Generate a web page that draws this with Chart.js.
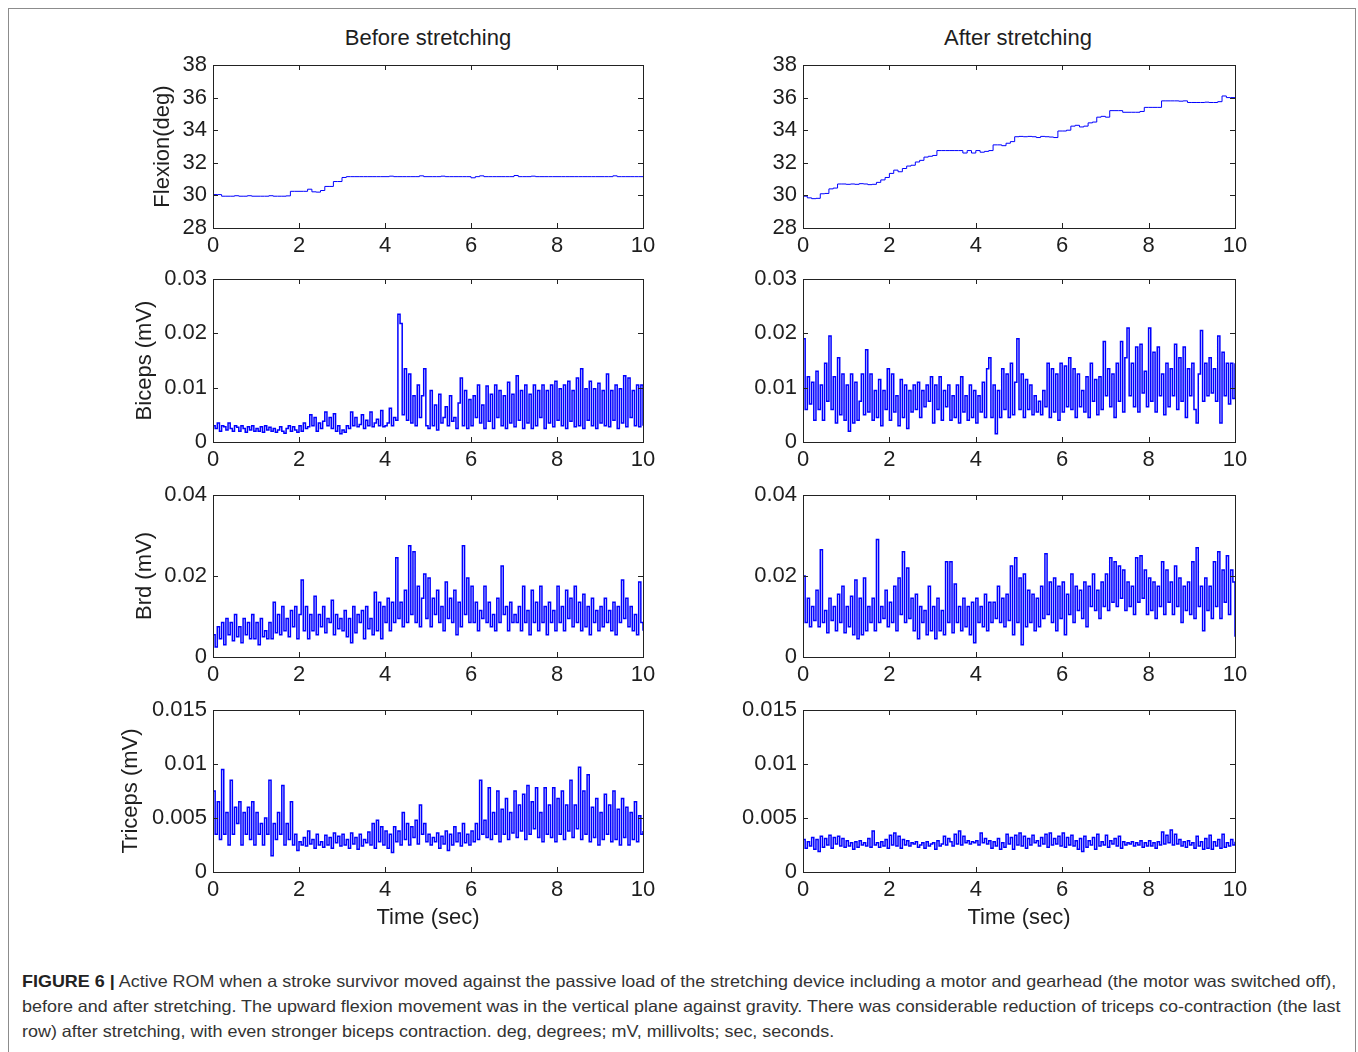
<!DOCTYPE html>
<html>
<head>
<meta charset="utf-8">
<script src="https://cdn.jsdelivr.net/npm/chart.js@4.4.1/dist/chart.umd.min.js"></script>
<style>
  html, body { margin: 0; padding: 0; background: #fff; }
  body { width: 1358px; height: 1052px; position: relative; overflow: hidden; font-family: 'Liberation Sans', Arial, sans-serif; }
  #frame { position: absolute; left: 8px; top: 8px; width: 1346px; height: 1100px; border: 1px solid #8c8c8c; }
  .coltitle { position: absolute; width: 400px; text-align: center; font-size: 22px; line-height: 26px; color: #1e1e1e; }
  #caption { position: absolute; left: 22px; top: 969px; font-size: 16.5px; line-height: 25px; color: #333; }
  #caption .ln { white-space: nowrap; transform-origin: 0 0; }
</style>
</head>
<body>
<div id="frame"></div>
<div class="coltitle" style="left:228px;top:25px">Before stretching</div>
<div class="coltitle" style="left:818px;top:25px">After stretching</div>
<div id="caption">
  <div class="ln"><b style="color:#222">FIGURE 6 |</b> Active ROM when a stroke survivor moved against the passive load of the stretching device including a motor and gearhead (the motor was switched off),</div>
  <div class="ln">before and after stretching. The upward flexion movement was in the vertical plane against gravity. There was considerable reduction of triceps co-contraction (the last</div>
  <div class="ln">row) after stretching, with even stronger biceps contraction. deg, degrees; mV, millivolts; sec, seconds.</div>
</div>
<script>
// flexion angle, sampled every 0.1 s (0..10 s)
const flexBefore = [
  30.05,30.05,29.95,29.95,29.95,29.98,29.95,29.95,29.98,29.95,
  29.95,29.95,29.95,29.98,29.95,29.95,29.95,29.97,30.25,30.25,
  30.25,30.25,30.38,30.22,30.2,30.3,30.55,30.55,30.85,30.85,
  31.1,31.15,31.15,31.15,31.15,31.15,31.15,31.15,31.15,31.15,
  31.15,31.18,31.15,31.15,31.15,31.15,31.15,31.15,31.2,31.15,
  31.15,31.15,31.15,31.18,31.15,31.15,31.15,31.15,31.15,31.15,
  31.08,31.15,31.2,31.15,31.15,31.15,31.15,31.15,31.15,31.15,
  31.22,31.15,31.15,31.15,31.18,31.15,31.15,31.15,31.15,31.15,
  31.15,31.15,31.15,31.15,31.15,31.15,31.15,31.15,31.15,31.15,
  31.15,31.15,31.15,31.2,31.15,31.15,31.15,31.15,31.15,31.15,31.15
];
const flexAfter = [
  29.95,29.85,29.8,29.82,30.1,30.12,30.4,30.45,30.7,30.7,
  30.68,30.7,30.68,30.72,30.7,30.66,30.68,30.8,30.95,31.1,
  31.35,31.55,31.45,31.65,31.8,31.85,32.05,32.15,32.35,32.4,
  32.45,32.75,32.75,32.75,32.75,32.75,32.75,32.6,32.75,32.6,
  32.75,32.65,32.7,32.75,33.1,33.1,33.05,33.2,33.3,33.6,
  33.62,33.6,33.62,33.6,33.55,33.62,33.6,33.58,33.55,33.95,
  33.95,34.0,34.25,34.3,34.2,34.25,34.45,34.5,34.8,34.85,
  34.8,35.2,35.2,35.2,35.1,35.1,35.1,35.1,35.15,35.4,
  35.4,35.4,35.4,35.8,35.8,35.8,35.8,35.78,35.8,35.7,
  35.7,35.7,35.7,35.72,35.7,35.7,35.75,36.1,36.0,36.0,36.0
];

// EMG envelopes (mV), sampled every 0.05 s
const bicepsBefore = [
  0.003,0.0025,0.0035,0.002,0.003,0.0028,0.0022,0.0035,0.0025,0.002,0.003,0.0027,0.002,0.003,0.0025,0.0018,0.0028,0.0022,0.003,0.002,
  0.0025,0.002,0.0028,0.0018,0.003,0.0022,0.0027,0.002,0.0025,0.0018,0.0022,0.0028,0.002,0.0016,0.0025,0.003,0.002,0.0028,0.0022,0.0018,
  0.003,0.002,0.0035,0.0025,0.0028,0.005,0.003,0.0045,0.002,0.0035,0.0025,0.0038,0.0055,0.003,0.0045,0.0025,0.0052,0.002,0.003,0.0015,
  0.0022,0.0018,0.003,0.0025,0.0055,0.003,0.0045,0.0028,0.0032,0.005,0.0025,0.004,0.003,0.0055,0.0028,0.0035,0.0042,0.003,0.0058,0.0028,
  0.003,0.0035,0.0062,0.003,0.0045,0.004,0.0235,0.0218,0.005,0.0135,0.004,0.0125,0.0035,0.0085,0.003,0.0105,0.0045,0.0085,0.0135,0.003,
  0.0025,0.0095,0.003,0.0068,0.0022,0.0088,0.0035,0.0045,0.0065,0.003,0.0085,0.0038,0.0045,0.0025,0.0072,0.0118,0.003,0.0095,0.0025,0.0078,
  0.003,0.0085,0.0045,0.0105,0.0035,0.0068,0.0025,0.0103,0.0038,0.0088,0.0025,0.0105,0.0045,0.0095,0.003,0.0085,0.0025,0.011,0.0035,0.0088,
  0.0028,0.0122,0.004,0.0095,0.0025,0.0105,0.0035,0.0088,0.0025,0.0105,0.003,0.0095,0.0045,0.0105,0.0025,0.0095,0.0035,0.0105,0.0028,0.0112,
  0.004,0.0098,0.003,0.0105,0.0025,0.0112,0.0038,0.0095,0.0028,0.0118,0.003,0.0135,0.0025,0.0098,0.004,0.0112,0.003,0.0098,0.0025,0.0108,
  0.0035,0.0095,0.003,0.0125,0.0028,0.0095,0.004,0.0105,0.0025,0.0098,0.0035,0.0122,0.0028,0.0118,0.0045,0.0095,0.003,0.0105,0.0028,0.0105,0.003
];
const bicepsAfter = [
  0.019,0.006,0.012,0.007,0.011,0.004,0.013,0.006,0.0105,0.004,0.0145,0.0075,0.0195,0.006,0.012,0.0035,0.0155,0.005,0.0125,0.004,
  0.0105,0.002,0.0125,0.0035,0.011,0.004,0.0075,0.0125,0.005,0.017,0.0055,0.0125,0.004,0.0095,0.0045,0.0115,0.003,0.0095,0.006,0.0135,
  0.004,0.0125,0.0055,0.0085,0.003,0.0115,0.0045,0.0105,0.0025,0.0095,0.0055,0.0105,0.006,0.011,0.0045,0.0095,0.0065,0.0105,0.0075,0.012,
  0.0035,0.0105,0.006,0.012,0.004,0.0095,0.0065,0.0105,0.004,0.0085,0.0045,0.0105,0.0035,0.012,0.0055,0.0085,0.004,0.0105,0.0045,0.0095,
  0.0035,0.0085,0.0055,0.011,0.0045,0.0135,0.0155,0.0045,0.0105,0.0015,0.0095,0.0045,0.0135,0.006,0.0125,0.0045,0.0145,0.005,0.011,0.019,
  0.006,0.0125,0.0045,0.0115,0.006,0.0105,0.005,0.0085,0.0055,0.0075,0.005,0.0095,0.0065,0.0145,0.0045,0.0135,0.0055,0.0125,0.004,0.0145,
  0.0055,0.014,0.0065,0.0155,0.006,0.0135,0.0045,0.0125,0.0065,0.0095,0.0055,0.012,0.0045,0.0145,0.0075,0.0115,0.005,0.012,0.006,0.0185,
  0.0085,0.0135,0.0065,0.0125,0.0045,0.0145,0.0075,0.0185,0.0055,0.0155,0.021,0.0085,0.0145,0.0065,0.0175,0.0055,0.018,0.009,0.013,0.0065,
  0.021,0.0075,0.0165,0.0055,0.0175,0.0085,0.0125,0.005,0.0145,0.0065,0.0135,0.0085,0.018,0.006,0.0155,0.0075,0.0175,0.0045,0.0135,0.0085,
  0.0145,0.006,0.0035,0.0125,0.0205,0.0075,0.0145,0.0085,0.0155,0.009,0.0135,0.0075,0.0195,0.0035,0.0165,0.0085,0.0145,0.007,0.0145,0.008,0.0145
];
const brdBefore = [
  0.0055,0.0025,0.0075,0.0045,0.0085,0.003,0.0095,0.0055,0.0085,0.004,0.0105,0.005,0.0075,0.0035,0.0095,0.0055,0.0085,0.0045,0.0105,0.0045,
  0.0085,0.003,0.0095,0.005,0.0065,0.0045,0.0085,0.0045,0.0135,0.006,0.0105,0.0055,0.0125,0.0065,0.0095,0.005,0.0115,0.0075,0.0125,0.0045,
  0.0105,0.019,0.0065,0.0125,0.0045,0.0105,0.0065,0.015,0.0055,0.0105,0.0075,0.0125,0.006,0.0095,0.0085,0.014,0.0055,0.0105,0.007,0.0095,
  0.0065,0.0115,0.005,0.0095,0.0035,0.0125,0.006,0.0105,0.0085,0.0115,0.0045,0.0125,0.007,0.0095,0.0055,0.016,0.0065,0.0135,0.0045,0.0125,
  0.0085,0.0145,0.0065,0.0135,0.0085,0.0245,0.0095,0.0135,0.0075,0.0165,0.0085,0.0275,0.0105,0.026,0.0085,0.0175,0.0075,0.0145,0.0205,0.0095,
  0.0195,0.0075,0.0145,0.0105,0.0165,0.0085,0.0125,0.0065,0.0185,0.0095,0.0145,0.0085,0.0165,0.0055,0.0135,0.0075,0.0275,0.0105,0.0195,0.0085,
  0.0175,0.0085,0.0135,0.0065,0.0115,0.0095,0.0175,0.0085,0.0135,0.0075,0.0105,0.0065,0.0145,0.0085,0.0225,0.0105,0.0125,0.0065,0.0135,0.0085,
  0.0105,0.0085,0.0125,0.0065,0.0175,0.0085,0.0115,0.0055,0.0165,0.0085,0.0135,0.0065,0.0175,0.0085,0.0125,0.0055,0.0135,0.0085,0.0115,0.0065,
  0.0175,0.0085,0.0125,0.0065,0.0165,0.0095,0.0145,0.0075,0.0175,0.0085,0.0135,0.0065,0.0155,0.0075,0.0125,0.0055,0.0145,0.0085,0.0115,0.0065,
  0.0125,0.0075,0.0145,0.0085,0.0115,0.0065,0.0135,0.0055,0.0125,0.0085,0.019,0.0095,0.0145,0.0075,0.0125,0.0065,0.0105,0.0055,0.0185,0.0085,0.0065
];
const brdAfter = [
  0.02,0.0085,0.0145,0.0075,0.0125,0.009,0.0165,0.0075,0.0265,0.0085,0.0115,0.006,0.0145,0.009,0.0125,0.0065,0.0155,0.0085,0.0175,0.006,
  0.0125,0.0075,0.015,0.0055,0.019,0.0045,0.0145,0.0055,0.0195,0.0065,0.0125,0.0085,0.0145,0.0065,0.029,0.0085,0.0125,0.0095,0.0165,0.0075,
  0.0135,0.0085,0.0175,0.0065,0.0195,0.0105,0.026,0.0085,0.022,0.0095,0.0145,0.0065,0.0155,0.0045,0.0125,0.0085,0.0115,0.0055,0.0175,0.0065,
  0.0125,0.0045,0.0145,0.0065,0.0115,0.0055,0.0235,0.0085,0.0235,0.006,0.018,0.0085,0.0125,0.0065,0.0145,0.0075,0.0125,0.0055,0.0135,0.0035,
  0.0145,0.0085,0.0125,0.0075,0.0155,0.0065,0.0135,0.0085,0.0135,0.0095,0.0175,0.0085,0.0145,0.0075,0.0155,0.009,0.0225,0.0055,0.0245,0.0085,
  0.0195,0.003,0.0205,0.0075,0.0165,0.0085,0.0155,0.0065,0.0145,0.0075,0.0175,0.0095,0.0255,0.0105,0.0185,0.0085,0.0195,0.0065,0.0175,0.0095,
  0.0185,0.0055,0.0155,0.0105,0.0205,0.0085,0.0175,0.0115,0.0165,0.0095,0.0185,0.0075,0.0175,0.0125,0.0205,0.0115,0.0165,0.0095,0.0185,0.0125,
  0.0205,0.0115,0.0245,0.0135,0.0235,0.0125,0.0225,0.0145,0.0215,0.0115,0.0185,0.0125,0.0175,0.0105,0.0245,0.0135,0.025,0.0145,0.0215,0.0105,
  0.0195,0.0115,0.0185,0.0095,0.0175,0.0125,0.0235,0.0105,0.0215,0.0135,0.0185,0.0105,0.0225,0.0125,0.0195,0.0085,0.0175,0.0115,0.0185,0.0105,
  0.0235,0.0095,0.027,0.0125,0.0175,0.0065,0.0195,0.0115,0.0175,0.0095,0.0235,0.0125,0.026,0.0095,0.0215,0.0135,0.025,0.0105,0.0215,0.0185,0.005
];
const tricepsBefore = [
  0.0075,0.0035,0.0065,0.003,0.0095,0.0035,0.0055,0.0025,0.0085,0.0035,0.006,0.0045,0.0065,0.0025,0.0055,0.0035,0.006,0.003,0.0065,0.0025,
  0.0055,0.0035,0.0045,0.0025,0.005,0.0035,0.0085,0.0015,0.0045,0.003,0.0055,0.0035,0.008,0.0025,0.0045,0.003,0.0065,0.0025,0.0035,0.002,
  0.0028,0.0025,0.0032,0.0024,0.0038,0.0026,0.003,0.0022,0.0035,0.0025,0.0028,0.0023,0.0034,0.0025,0.0032,0.0022,0.0036,0.0027,0.0033,0.0024,
  0.0035,0.0025,0.003,0.0022,0.0036,0.0026,0.0032,0.0021,0.0035,0.0024,0.003,0.0027,0.0037,0.0025,0.0045,0.0022,0.0048,0.0028,0.0042,0.0025,
  0.0038,0.0022,0.0035,0.0018,0.0042,0.0028,0.0038,0.0025,0.0055,0.003,0.0045,0.0025,0.0042,0.0032,0.0048,0.0026,0.0062,0.0035,0.0045,0.0028,
  0.0035,0.0025,0.0032,0.0028,0.0036,0.0022,0.0033,0.0026,0.0038,0.002,0.0035,0.0025,0.0042,0.0028,0.0036,0.0024,0.0045,0.0027,0.0035,0.0025,
  0.0038,0.0028,0.0045,0.003,0.0085,0.0035,0.0048,0.0032,0.0078,0.003,0.0055,0.0035,0.0075,0.0028,0.0058,0.0035,0.0068,0.003,0.0055,0.0036,
  0.0075,0.0032,0.0062,0.0038,0.0072,0.003,0.008,0.0035,0.0065,0.004,0.0078,0.0032,0.0055,0.0028,0.0078,0.0035,0.0062,0.0032,0.0078,0.0028,
  0.0068,0.0035,0.0075,0.003,0.0062,0.0038,0.0085,0.0032,0.0062,0.004,0.0097,0.003,0.0075,0.0035,0.009,0.0028,0.006,0.0032,0.0068,0.0025,
  0.0055,0.003,0.0072,0.0035,0.0062,0.0028,0.0075,0.003,0.0058,0.0025,0.0068,0.0032,0.006,0.0025,0.0055,0.003,0.0065,0.0028,0.0052,0.0035,0.0038
];
const tricepsAfter = [
  0.003,0.0022,0.0028,0.0024,0.0032,0.0021,0.003,0.0019,0.0033,0.0023,0.0031,0.0025,0.0034,0.0022,0.0032,0.0026,0.0033,0.0024,0.0031,0.0023,
  0.0029,0.0024,0.0027,0.0021,0.0028,0.0023,0.0029,0.0025,0.0027,0.0024,0.0031,0.0023,0.0038,0.0025,0.0027,0.0023,0.0028,0.0024,0.003,0.0022,
  0.0034,0.0025,0.0036,0.0024,0.0033,0.0022,0.003,0.0025,0.0029,0.0024,0.0027,0.0026,0.0028,0.0023,0.0025,0.0027,0.0022,0.0028,0.0024,0.0026,
  0.0027,0.0021,0.0029,0.0024,0.0026,0.0033,0.0025,0.0031,0.0028,0.0024,0.0035,0.0026,0.0038,0.0025,0.0033,0.0027,0.0029,0.0026,0.0028,0.0027,
  0.0029,0.0025,0.0036,0.0027,0.0031,0.0026,0.0029,0.0022,0.0028,0.0024,0.0031,0.0021,0.0027,0.0023,0.0035,0.0026,0.0032,0.0021,0.0034,0.0025,
  0.0036,0.0024,0.0033,0.0022,0.0031,0.0025,0.0034,0.0027,0.0029,0.0024,0.0032,0.0026,0.0035,0.0023,0.0036,0.0025,0.0031,0.0026,0.0033,0.0024,
  0.0036,0.0023,0.0032,0.0025,0.0034,0.0024,0.0029,0.0021,0.0031,0.0019,0.0033,0.0023,0.0029,0.0025,0.0032,0.0021,0.0035,0.0024,0.0028,0.0025,
  0.0034,0.0023,0.0029,0.0026,0.0031,0.0024,0.0033,0.0022,0.0028,0.0025,0.0027,0.0026,0.0028,0.0024,0.0027,0.0025,0.0029,0.0023,0.0027,0.0024,
  0.0029,0.0024,0.0027,0.0022,0.0028,0.0025,0.0037,0.0026,0.0034,0.0027,0.0039,0.0025,0.0035,0.0026,0.003,0.0024,0.0028,0.0023,0.0029,0.0025,
  0.0027,0.0022,0.0033,0.0024,0.0028,0.0021,0.0031,0.0022,0.0034,0.0021,0.0028,0.0024,0.003,0.0022,0.0035,0.0023,0.0027,0.0024,0.003,0.0025,0.0028
];

const TXT = '#1e1e1e';
const FONT = {family: "'Liberation Sans', Arial, sans-serif", size: 22};
Chart.defaults.font.family = FONT.family;

// matlab style box with inward ticks on all four sides
const boxTicks = {
  id: 'boxTicks',
  afterDatasetsDraw(chart) {
    const {ctx, chartArea: a, scales: {x, y}} = chart;
    const len = 5;
    ctx.save();
    ctx.strokeStyle = '#222';
    ctx.lineWidth = 1;
    ctx.beginPath();
    x.ticks.forEach(t => {
      const p = Math.round(x.getPixelForValue(t.value)) + 0.5;
      ctx.moveTo(p, a.bottom); ctx.lineTo(p, a.bottom - len);
      ctx.moveTo(p, a.top); ctx.lineTo(p, a.top + len);
    });
    y.ticks.forEach(t => {
      const p = Math.round(y.getPixelForValue(t.value)) + 0.5;
      ctx.moveTo(a.left, p); ctx.lineTo(a.left + len, p);
      ctx.moveTo(a.right, p); ctx.lineTo(a.right - len, p);
    });
    ctx.stroke();
    ctx.strokeRect(a.left + 0.5, a.top + 0.5, a.right - a.left, a.bottom - a.top);
    ctx.restore();
  }
};

const fmt = v => String(parseFloat(Number(v).toFixed(4)));

function panel(p) {
  const padTop = 20, padRight = 24;
  const xH = p.xTitle ? 59 : 36;
  const w = p.W + (p.R - p.L) + padRight;
  const h = padTop + (p.B - p.T) + xH;
  const cv = document.createElement('canvas');
  cv.width = w; cv.height = h;
  cv.style.cssText = `position:absolute;left:${p.L - p.W}px;top:${p.T - padTop}px;width:${w}px;height:${h}px`;
  document.body.appendChild(cv);
  const pts = p.data.map((v, i) => ({x: i * 10 / (p.data.length - 1), y: v}));

  new Chart(cv, {
    type: 'line',
    data: {
      datasets: [{
        data: pts,
        borderColor: '#0000ff',
        borderWidth: p.lw || 1,
        pointRadius: 0,
        stepped: true,
        fill: false,
      }],
    },
    options: {
      responsive: false,
      animation: false,
      events: [],
      layout: {padding: {top: padTop, right: padRight, left: 0, bottom: 0}},
      plugins: {legend: {display: false}, tooltip: {enabled: false}},
      scales: {
        x: {
          type: 'linear', min: 0, max: 10,
          grid: {display: false, drawTicks: false},
          border: {display: false},
          ticks: {stepSize: 2, padding: 5, color: TXT, font: FONT, maxRotation: 0, autoSkip: false},
          title: {display: !!p.xTitle, text: p.xTitle || '', color: TXT, font: FONT, padding: 0},
          afterFit: s => { s.height = xH; },
        },
        y: {
          min: p.yMin, max: p.yMax,
          grid: {display: false, drawTicks: false},
          border: {display: false},
          ticks: {stepSize: p.yStep, padding: 6, color: TXT, font: FONT, callback: fmt, autoSkip: false},
          title: {display: !!p.yTitle, text: p.yTitle || '', color: TXT, font: FONT, padding: 0},
          afterFit: s => { s.width = p.W; },
        },
      },
    },
    plugins: [boxTicks],
  });
}

const LEFT = {L: 213, R: 643}, RIGHT = {L: 803, R: 1235};
const ROWS = [{T: 65, B: 228}, {T: 279, B: 442}, {T: 495, B: 657}, {T: 710, B: 872}];
const EMG_LW = 1.5;

panel({...LEFT, ...ROWS[0], yMin: 28, yMax: 38, yStep: 2, yTitle: 'Flexion(deg)', W: 63, data: flexBefore});
panel({...RIGHT, ...ROWS[0], yMin: 28, yMax: 38, yStep: 2, W: 80, data: flexAfter});
panel({...LEFT, ...ROWS[1], yMin: 0, yMax: 0.03, yStep: 0.01, yTitle: 'Biceps (mV)', W: 81, lw: EMG_LW, data: bicepsBefore});
panel({...RIGHT, ...ROWS[1], yMin: 0, yMax: 0.03, yStep: 0.01, W: 80, lw: EMG_LW, data: bicepsAfter});
panel({...LEFT, ...ROWS[2], yMin: 0, yMax: 0.04, yStep: 0.02, yTitle: 'Brd (mV)', W: 81, lw: EMG_LW, data: brdBefore});
panel({...RIGHT, ...ROWS[2], yMin: 0, yMax: 0.04, yStep: 0.02, W: 80, lw: EMG_LW, data: brdAfter});
panel({...LEFT, ...ROWS[3], yMin: 0, yMax: 0.015, yStep: 0.005, yTitle: 'Triceps (mV)', W: 95, xTitle: 'Time (sec)', lw: EMG_LW, data: tricepsBefore});
panel({...RIGHT, ...ROWS[3], yMin: 0, yMax: 0.015, yStep: 0.005, W: 80, xTitle: 'Time (sec)', lw: EMG_LW, data: tricepsAfter});

// stretch caption lines to the justified width of the original
function fitCaption() {
  const lines = document.querySelectorAll('#caption .ln');
  const target = 1318;
  const s0 = target / lines[0].scrollWidth;
  const s1 = target / lines[1].scrollWidth;
  lines[0].style.transform = `scaleX(${s0})`;
  lines[1].style.transform = `scaleX(${s1})`;
  lines[2].style.transform = `scaleX(${(s0 + s1) / 2})`;
}
if (document.fonts && document.fonts.ready) document.fonts.ready.then(fitCaption); else fitCaption();
</script>
</body>
</html>
